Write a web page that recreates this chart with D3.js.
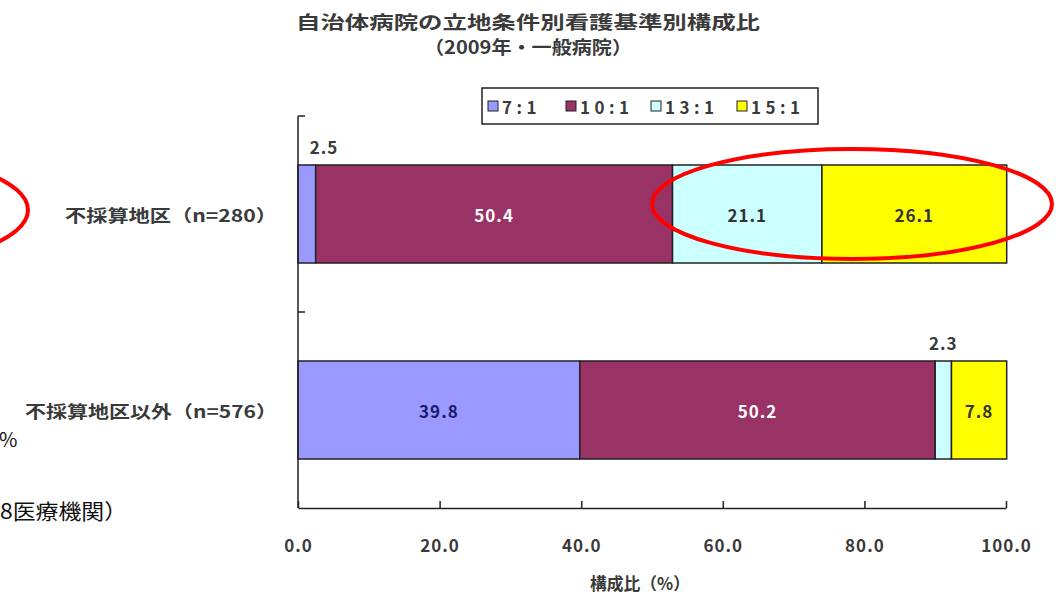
<!DOCTYPE html>
<html><head><meta charset="utf-8">
<script src="https://cdn.jsdelivr.net/npm/d3@7"></script>
<style>
html,body{margin:0;padding:0;background:#fff;}
svg{display:block;}
text{font-family:"Noto Sans CJK JP","Noto Sans",sans-serif;}
</style></head>
<body><svg id="c" width="1056" height="595"></svg>
<script>
const categories = ["不採算地区（n=280）", "不採算地区以外（n=576）"];
const seriesNames = ["7:1", "10:1", "13:1", "15:1"];
const ratio7 = [2.5, 39.8];
const ratio10 = [50.4, 50.2];
const ratio13 = [21.1, 2.3];
const ratio15 = [26.1, 7.8];
const xTicks = [0, 20, 40, 60, 80, 100];
const colors = ["#9999ff", "#993366", "#ccffff", "#ffff00"];
const labelColors = ["#1a1a6e", "#ffffff", "#333333", "#333333"];
const titleLines = ["自治体病院の立地条件別看護基準別構成比", "（2009年・一般病院）"];
const xTitle = "構成比（%）";

const rows = categories.map((c, i) => ({cat: c, "7:1": ratio7[i], "10:1": ratio10[i], "13:1": ratio13[i], "15:1": ratio15[i]}));
const stacked = d3.stack().keys(seriesNames)(rows);

const svg = d3.select("#c");
const x = d3.scaleLinear().domain([0, 100]).range([298, 1006]);
const y = d3.scaleBand().domain(categories).range([116, 508]).paddingInner(0.5).paddingOuter(0.25);
const ink = "#222";
const txt = "#3a3a3a";

// title
svg.append("text").attr("x", 528).attr("y", 29).attr("text-anchor", "middle")
  .attr("font-size", 18).attr("font-weight", "bold").attr("fill", txt).attr("textLength", 464).attr("lengthAdjust", "spacingAndGlyphs")
  .text(titleLines[0]);
svg.append("text").attr("x", 528).attr("y", 54).attr("text-anchor", "middle")
  .attr("font-size", 18).attr("font-weight", "bold").attr("fill", txt).attr("textLength", 208).attr("lengthAdjust", "spacingAndGlyphs")
  .text(titleLines[1]);

// bars
const g = svg.append("g");
stacked.forEach((s, si) => {
  g.selectAll(null).data(s).enter().append("rect")
    .attr("x", d => x(d[0])).attr("width", d => x(d[1]) - x(d[0]))
    .attr("y", d => y(d.data.cat)).attr("height", y.bandwidth())
    .attr("fill", colors[si]).attr("stroke", ink).attr("stroke-width", 1.5);
});

// data labels
stacked.forEach((s, si) => {
  s.forEach(d => {
    const v = d[1] - d[0];
    const w = x(d[1]) - x(d[0]);
    const cx = (x(d[0]) + x(d[1])) / 2;
    const t = g.append("text").attr("font-size", 17).attr("font-weight", "bold").attr("text-anchor", "middle")
      .attr("letter-spacing", 1).attr("dominant-baseline", "central").text(v.toFixed(1));
    if (w > 40) {
      t.attr("x", cx).attr("y", y(d.data.cat) + y.bandwidth() / 2).attr("fill", labelColors[si]);
    } else {
      t.attr("x", Math.max(cx, x(0) + 26)).attr("y", y(d.data.cat) - 19).attr("fill", txt);
    }
  });
});

// y axis
const ya = svg.append("g");
ya.append("line").attr("x1", x(0)).attr("x2", x(0)).attr("y1", 116).attr("y2", 508).attr("stroke", ink).attr("stroke-width", 1.5);
const bounds = [116, (y(categories[0]) + y.bandwidth() + y(categories[1])) / 2];
bounds.forEach(b => ya.append("line").attr("x1", x(0)).attr("x2", x(0) + 7).attr("y1", b).attr("y2", b).attr("stroke", ink).attr("stroke-width", 1.5));
const catW = [212, 252];
categories.forEach((c, i) => {
  ya.append("text").attr("x", 277).attr("y", y(c) + y.bandwidth() / 2).attr("text-anchor", "end")
    .attr("dominant-baseline", "central").attr("font-size", 17).attr("font-weight", "bold").attr("fill", txt)
    .attr("textLength", catW[i]).attr("lengthAdjust", "spacingAndGlyphs").text(c);
});

// x axis
const xa = svg.append("g").attr("transform", "translate(0,508)")
  .call(d3.axisBottom(x).tickValues(xTicks).tickSizeInner(-7).tickSizeOuter(0).tickPadding(28).tickFormat(d => d.toFixed(1)));
xa.select(".domain").attr("stroke", ink).attr("stroke-width", 1.5);
xa.selectAll(".tick line").attr("stroke", ink).attr("stroke-width", 1.5);
xa.selectAll(".tick text").attr("font-size", 17).attr("font-weight", "bold").attr("fill", txt).attr("letter-spacing", 1)
  .attr("font-family", "\"Noto Sans CJK JP\",sans-serif").attr("dy", "0.95em");
svg.append("text").attr("x", 640).attr("y", 590).attr("text-anchor", "middle").attr("font-size", 17)
  .attr("font-weight", "bold").attr("fill", txt).attr("textLength", 100).attr("lengthAdjust", "spacingAndGlyphs").text(xTitle);

// legend
const lg = svg.append("g");
lg.append("rect").attr("x", 482).attr("y", 88).attr("width", 336).attr("height", 36)
  .attr("fill", "#fff").attr("stroke", ink).attr("stroke-width", 1.5);
const legX = [488, 566, 651, 737];
seriesNames.forEach((n, i) => {
  lg.append("rect").attr("x", legX[i]).attr("y", 101).attr("width", 10).attr("height", 10)
    .attr("fill", colors[i]).attr("stroke", ink).attr("stroke-width", 1);
  lg.append("text").attr("x", legX[i] + 14).attr("y", 106).attr("dominant-baseline", "central")
    .attr("font-size", 17).attr("font-weight", "bold").attr("fill", txt).attr("letter-spacing", 4.5).text(n);
});

// annotations (slide overlay)
svg.append("ellipse").attr("cx", 852).attr("cy", 204).attr("rx", 200).attr("ry", 55)
  .attr("fill", "none").attr("stroke", "#ff0000").attr("stroke-width", 4);
svg.append("ellipse").attr("cx", -133).attr("cy", 210).attr("rx", 161).attr("ry", 55)
  .attr("fill", "none").attr("stroke", "#ff0000").attr("stroke-width", 4);
svg.append("text").attr("x", -1).attr("y", 438).attr("dominant-baseline", "central").attr("font-size", 20)
  .attr("fill", "#111").text("%");
svg.append("text").attr("x", 0).attr("y", 510).attr("dominant-baseline", "central").attr("font-size", 21)
  .attr("fill", "#111").attr("textLength", 127).attr("lengthAdjust", "spacingAndGlyphs").text("8医療機関）");
</script></body></html>
